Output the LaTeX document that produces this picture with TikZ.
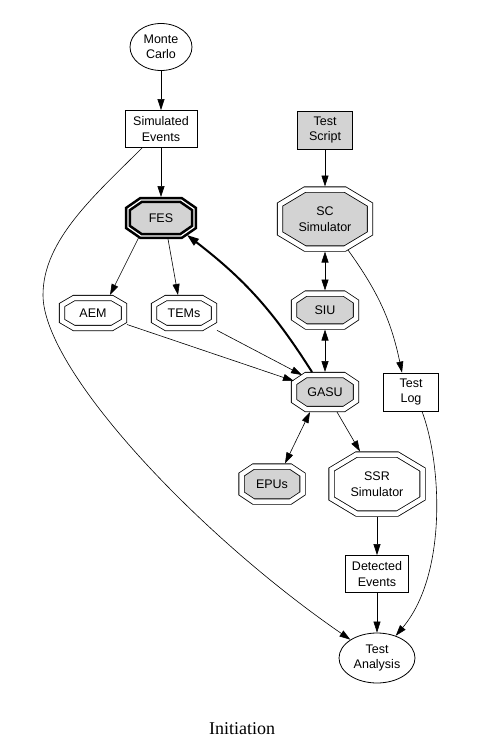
\documentclass[tikz,border=0pt]{standalone}
\usepackage{fontspec}
\setmainfont{Liberation Serif}
\setsansfont{Liberation Sans}
\usetikzlibrary{arrows.meta,shapes.geometric,calc,backgrounds}
\definecolor{shade}{HTML}{D3D3D3}

% octagon drawn 3pt inside the box of a node: node, chamfer x, chamfer y
\newcommand{\octagon}[3]{($(#1.north west)+(#2,3)$) -- ($(#1.north east)+(-#2,3)$) --
  ($(#1.north east)+(-3,#3)$) -- ($(#1.south east)+(-3,-#3)$) --
  ($(#1.south east)+(-#2,-3)$) -- ($(#1.south west)+(#2,-3)$) --
  ($(#1.south west)+(3,-#3)$) -- ($(#1.north west)+(3,#3)$) -- cycle}

\begin{document}
\begin{tikzpicture}[x=1pt,y=-1pt,
  every node/.style={font=\sffamily\fontsize{12.5}{15.5}\selectfont,align=center,inner sep=0pt},
  box/.style={draw,rectangle,line width=0.8pt,minimum height=37pt},
  grey/.style={fill=shade},
  oval/.style={draw,ellipse,line width=0.8pt},
  octo/.style={rectangle,outer sep=0pt,minimum width=68pt,minimum height=36pt},
  ring/.style={draw,line width=0.8pt,double=white,double distance=4.5pt},
  heavyring/.style={draw,line width=2.6pt,double=white,double distance=1.2pt},
  arr/.style={-{Triangle[length=11pt,width=7pt]},line width=0.6pt},
  dual/.style={{Triangle[length=11pt,width=7pt]}-{Triangle[length=11pt,width=7pt]},line width=0.6pt},
  heavy/.style={-{Triangle[length=12pt,width=8pt]},line width=2pt},
  title/.style={font=\rmfamily\fontsize{18}{20}\selectfont}
]
\useasboundingbox (0,0) rectangle (484,752);

% Simulation chain
\node[oval,minimum width=62pt,minimum height=47pt] (mc) at (161,47) {Monte\\Carlo};
\node[box,minimum width=72pt] (simev) at (161,129) {Simulated\\Events};
\node[octo,minimum width=72pt,minimum height=42pt] (fes) at (161,218) {FES};
\node[octo] (aem) at (93,313) {AEM};
\node[octo,minimum width=66pt] (tems) at (184,313) {TEMs};

% Spacecraft side
\node[box,grey,minimum width=55pt,minimum height=38pt] (script) at (325,130) {Test\\Script};
\node[octo,minimum width=96pt,minimum height=65pt] (scsim) at (325,219) {SC\\Simulator};
\node[octo,minimum height=39pt] (siu) at (325,310) {SIU};
\node[octo,minimum height=40pt] (gasu) at (325,392) {GASU};
\node[box,minimum width=55pt,minimum height=38pt] (log) at (411,392) {Test\\Log};
\node[octo,minimum width=67pt,minimum height=41pt] (epus) at (272,484) {EPUs};
\node[octo,minimum width=97pt,minimum height=65pt] (ssr) at (377,484) {SSR\\Simulator};
\node[box,minimum width=63pt] (det) at (377,574) {Detected\\Events};
\node[oval,minimum width=76pt,minimum height=50pt] (ta) at (377,658) {Test\\Analysis};

\node[title] (cap) at (242,729) {Initiation};

% Octagon outlines behind the labels
\begin{scope}[on background layer]
  \draw[heavyring,fill=shade] \octagon{fes}{16}{12};
  \foreach \n/\cx/\cy/\f in {aem/15/10/white, tems/15/10/white, siu/15/11/shade,
      gasu/15/11/shade, epus/15/11/shade, scsim/28/18/shade, ssr/28/18/white}
    \draw[ring,fill=\f] \octagon{\n}{\cx}{\cy};
\end{scope}

% Arrows
\draw[arr] (mc) -- (simev);
\draw[arr] (simev) -- (fes);
\draw[arr] ([shift={(-22,19)}]fes.center) -- ([xshift=17pt]aem.north);
\draw[arr] ([xshift=7pt]fes.south) -- ([xshift=-6pt]tems.north);
\draw[arr] (aem) -- ([shift={(-31,-11)}]gasu.center);
\draw[arr] (tems) -- ([shift={(-23,-17)}]gasu.center);
\draw[heavy] ([xshift=-13pt]gasu.north) to[bend right=10] ([shift={(26,17)}]fes.center);

\draw[arr] (script) -- (scsim);
\draw[dual] (scsim) -- (siu);
\draw[dual] (siu) -- (gasu);
\draw[dual] ([xshift=-15pt]gasu.south) -- ([xshift=13pt]epus.north);
\draw[arr] ([xshift=12pt]gasu.south) -- ([xshift=-17pt]ssr.north);
\draw[arr] (ssr) -- (det);
\draw[arr] (det) -- (ta);
\draw[arr] ([shift={(23,31)}]scsim.center) to[bend left=12] ([xshift=-9pt]log.north);
\draw[arr] ([xshift=11pt]log.south) .. controls (442,465) and (447,575) .. (ta);
\draw[arr] (simev) .. controls (95,195) and (43,240) .. (43,295) .. controls (43,370) and (197,534) .. (ta);

\end{tikzpicture}
\end{document}
